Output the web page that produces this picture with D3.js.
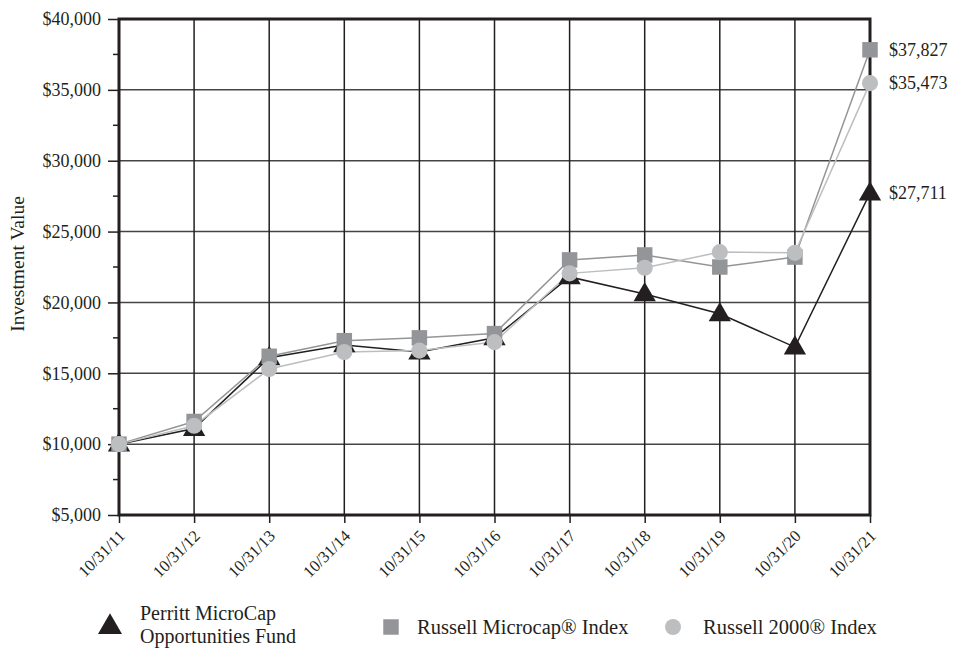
<!DOCTYPE html>
<html>
<head>
<meta charset="utf-8">
<script src="https://cdn.jsdelivr.net/npm/d3@7"></script>
<style>
  body { margin: 0; background: #fff; }
  svg text { font-family: "Liberation Serif", "DejaVu Serif", serif; fill: #231f20; }
</style>
</head>
<body>
<svg id="chart" width="955" height="649"></svg>
<script>
const dates = ["10/31/11", "10/31/12", "10/31/13", "10/31/14", "10/31/15", "10/31/16",
               "10/31/17", "10/31/18", "10/31/19", "10/31/20", "10/31/21"]
const fundValues = [10000, 11100, 16100, 17000, 16500, 17500, 21800, 20600, 19200, 16850, 27711]
const microcapValues = [10000, 11600, 16200, 17300, 17500, 17800, 23000, 23350, 22500, 23200, 37827]
const r2000Values = [10000, 11300, 15300, 16500, 16600, 17200, 22050, 22450, 23550, 23500, 35473]
const yTicks = [5000, 10000, 15000, 20000, 25000, 30000, 35000, 40000]
const yMinorTicks = [7500, 12500, 17500, 22500, 27500, 32500, 37500]

const DARK = "#231f20", MID = "#939598", LIGHT = "#bcbec0"

const svg = d3.select("#chart"),
    plotLeft = 119, plotRight = 870, plotTop = 19, plotBottom = 515

const x = d3.scalePoint().domain(dates).range([plotLeft, plotRight])
const y = d3.scaleLinear().domain([5000, 40000]).range([plotBottom, plotTop])
const fmt = d3.format("$,")

// grid
svg.append("g")
    .selectAll("line")
    .data(yTicks)
    .join("line")
    .attr("x1", plotLeft).attr("x2", plotRight)
    .attr("y1", d => y(d)).attr("y2", d => y(d))
    .style("stroke", "#444")
    .style("stroke-width", 1.5)

svg.append("g")
    .selectAll("line")
    .data(dates)
    .join("line")
    .attr("x1", d => x(d)).attr("x2", d => x(d))
    .attr("y1", plotTop).attr("y2", plotBottom)
    .style("stroke", DARK)
    .style("stroke-width", 1.5)

// y axis
svg.append("g")
    .attr("transform", `translate(${plotLeft}, 0)`)
    .call(d3.axisLeft(y).tickValues(yTicks).tickFormat(fmt).tickSize(11).tickPadding(7))
    .call(g => g.select(".domain").remove())
    .call(g => g.selectAll(".tick line").style("stroke", DARK).style("stroke-width", 1.5))
    .call(g => g.selectAll(".tick text")
        .style("font-family", "Liberation Serif, serif")
        .style("font-size", "18px")
        .style("fill", DARK))

svg.append("g")
    .selectAll("line")
    .data(yMinorTicks)
    .join("line")
    .attr("x1", plotLeft - 6).attr("x2", plotLeft)
    .attr("y1", d => y(d)).attr("y2", d => y(d))
    .style("stroke", DARK)
    .style("stroke-width", 1.5)

// x axis
svg.append("g")
    .attr("transform", `translate(0, ${plotBottom})`)
    .call(d3.axisBottom(x).tickSize(8).tickFormat(""))
    .call(g => g.select(".domain").remove())
    .call(g => g.selectAll(".tick line").style("stroke", DARK).style("stroke-width", 1.5))

svg.append("g")
    .selectAll("text")
    .data(dates)
    .join("text")
    .attr("transform", d => `translate(${x(d) + 7}, ${plotBottom + 22}) rotate(-45)`)
    .attr("text-anchor", "end")
    .style("font-size", "16.5px")
    .text(d => d)

// frame
svg.append("rect")
    .attr("x", plotLeft).attr("y", plotTop)
    .attr("width", plotRight - plotLeft).attr("height", plotBottom - plotTop)
    .style("fill", "none")
    .style("stroke", DARK)
    .style("stroke-width", 3)

svg.append("text")
    .attr("transform", `translate(24, 264) rotate(-90)`)
    .attr("text-anchor", "middle")
    .style("font-size", "19.5px")
    .text("Investment Value")

// series
const series = [
    {name: "fund", values: fundValues, color: DARK, shape: d3.symbolTriangle, size: 215, width: 1.5},
    {name: "microcap", values: microcapValues, color: MID, shape: d3.symbolSquare, size: 240, width: 1.5},
    {name: "r2000", values: r2000Values, color: LIGHT, shape: d3.symbolCircle, size: 205, width: 1.5}
]

const line = d3.line().x((d, i) => x(dates[i])).y(d => y(d))

series.forEach(s => {
    svg.append("path")
        .datum(s.values)
        .attr("d", line)
        .style("fill", "none")
        .style("stroke", s.color)
        .style("stroke-width", s.width)
})

series.forEach(s => {
    svg.append("g")
        .selectAll("path")
        .data(s.values)
        .join("path")
        .attr("d", d3.symbol(s.shape, s.size))
        .attr("transform", (d, i) => `translate(${x(dates[i])}, ${y(d) + (s.shape === d3.symbolTriangle ? 1 : 0)})`)
        .style("fill", s.color)
})

// end labels
series.forEach(s => {
    const last = s.values[s.values.length - 1]
    svg.append("text")
        .attr("x", plotRight + 19)
        .attr("y", y(last) + 6)
        .style("font-size", "18px")
        .text(fmt(last))
})

// legend
const legend = svg.append("g")

legend.append("path")
    .attr("d", d3.symbol(d3.symbolTriangle, 250))
    .attr("transform", "translate(110, 627)")
    .style("fill", DARK)
legend.append("text").attr("x", 140).attr("y", 620).style("font-size", "20px").text("Perritt MicroCap")
legend.append("text").attr("x", 140).attr("y", 643).style("font-size", "20px").text("Opportunities Fund")

legend.append("path")
    .attr("d", d3.symbol(d3.symbolSquare, 240))
    .attr("transform", "translate(391, 627)")
    .style("fill", MID)
legend.append("text").attr("x", 417).attr("y", 634).style("font-size", "20.5px").text("Russell Microcap® Index")

legend.append("path")
    .attr("d", d3.symbol(d3.symbolCircle, 200))
    .attr("transform", "translate(673, 627)")
    .style("fill", LIGHT)
legend.append("text").attr("x", 703).attr("y", 634).style("font-size", "20.5px").text("Russell 2000® Index")
</script>
</body>
</html>
